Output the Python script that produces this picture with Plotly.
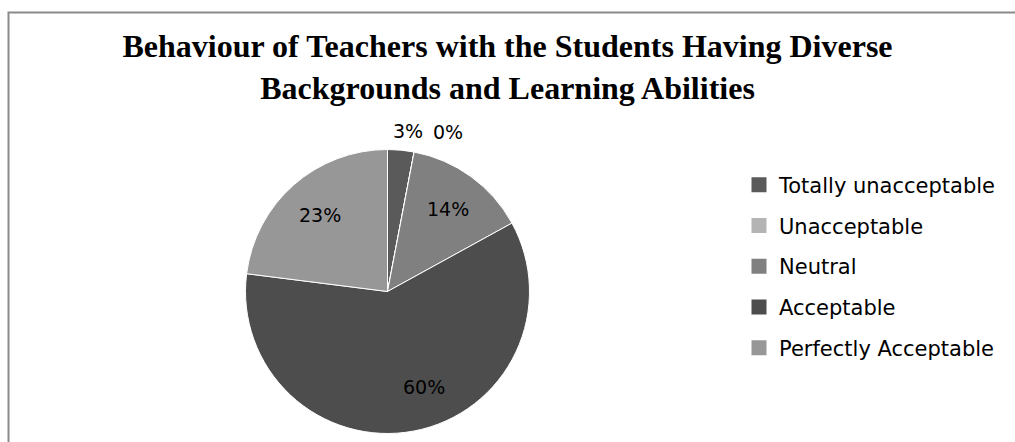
import math
import plotly.graph_objects as go

# Survey responses (percent of respondents)
categories = ["Totally unacceptable", "Unacceptable", "Neutral", "Acceptable", "Perfectly Acceptable"]
shares = [3, 0, 14, 60, 23]
colors = ["#5a5a5a", "#b4b4b4", "#808080", "#4d4d4d", "#979797"]

# Label placement: radial distance (fraction of radius) and angular nudge (degrees)
label_radius = [1.14, 1.20, 0.72, 0.72, 0.72]
label_nudge = [2, 10, 0, -10, 0]

W, H = 1015, 442
cx, cy, r = 387.5, 291.5, 142  # pie centre / radius in pixels

fig = go.Figure()

fig.add_trace(go.Pie(
    labels=categories,
    values=shares,
    sort=False,
    direction="clockwise",
    rotation=0,
    marker=dict(colors=colors, line=dict(color="white", width=1)),
    textinfo="none",
    showlegend=False,
    hoverinfo="label+percent",
    domain=dict(x=[(cx - r) / W, (cx + r) / W], y=[(H - cy - r) / H, (H - cy + r) / H]),
))

# Percentage labels at each slice's mid-angle (clockwise from 12 o'clock)
total = sum(shares)
annotations = []
acc = 0.0
for v, rf, nudge in zip(shares, label_radius, label_nudge):
    mid = (acc + v / 2) / total * 360 + nudge
    acc += v
    px = cx + rf * r * math.sin(math.radians(mid))
    py = cy - rf * r * math.cos(math.radians(mid))
    annotations.append(dict(
        x=px / W, y=1 - py / H, xref="paper", yref="paper",
        text=f"{round(v / total * 100)}%", showarrow=False,
        xanchor="center", yanchor="middle",
        font=dict(family="DejaVu Sans", size=19, color="#000000"),
    ))

# Legend entries (square swatches), one group per category
for name, col in zip(categories, colors):
    fig.add_trace(go.Scatter(
        x=[None], y=[None], mode="markers", name=name, legendgroup=name,
        marker=dict(symbol="square", size=15, color=col),
        hoverinfo="skip",
    ))

fig.update_layout(
    width=W, height=H,
    margin=dict(l=0, r=0, t=0, b=0),
    paper_bgcolor="white", plot_bgcolor="white",
    xaxis=dict(visible=False), yaxis=dict(visible=False),
    title=dict(
        text="<b>Behaviour of Teachers with the Students Having Diverse<br>Backgrounds and Learning Abilities</b>",
        font=dict(family="Liberation Serif", size=32, color="#000000"),
        x=0.5, xanchor="center", xref="paper",
        y=1 - 57 / H, yanchor="middle", yref="container",
    ),
    legend=dict(
        x=739 / W, xanchor="left", y=1 - 164.5 / H, yanchor="top",
        font=dict(family="DejaVu Sans", size=21, color="#000000"),
        tracegroupgap=10.5, itemsizing="trace",
        bgcolor="rgba(0,0,0,0)",
    ),
    annotations=annotations,
    shapes=[dict(
        type="rect", xref="paper", yref="paper",
        x0=8.5 / W, x1=1.05, y0=-0.05, y1=1 - 12.5 / H,
        line=dict(color="#8a8a8a", width=2), fillcolor="rgba(0,0,0,0)", layer="below",
    )],
)

fig.write_html("out.html")
